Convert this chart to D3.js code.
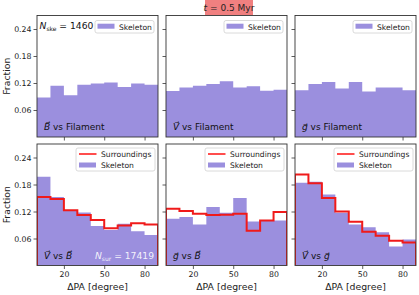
<!DOCTYPE html>
<html>
<head>
<meta charset="utf-8">
<script src="https://cdn.jsdelivr.net/npm/d3@7"></script>
<style>
  body { margin: 0; background: #fff; }
  svg { display: block; font-family: "DejaVu Sans", sans-serif; }
</style>
</head>
<body>
<div id="chart"></div>
<script>
// bin edges (degree) and tick values
const binEdges = [0, 10, 20, 30, 40, 50, 60, 70, 80, 90];
const xTicks = [20, 50, 80];
const yTicks = [0.06, 0.12, 0.18, 0.24];

// top row: skeleton only
const skeBFil = [0.088, 0.114, 0.093, 0.116, 0.119, 0.121, 0.111, 0.119, 0.116];
const skeVFil = [0.102, 0.110, 0.114, 0.118, 0.124, 0.110, 0.113, 0.103, 0.105];
const skeGFil = [0.104, 0.118, 0.122, 0.108, 0.122, 0.101, 0.110, 0.110, 0.104];

// bottom row: skeleton + surroundings
const skeVB = [0.197, 0.152, 0.121, 0.118, 0.088, 0.079, 0.093, 0.076, 0.068];
const surVB = [0.152, 0.148, 0.123, 0.112, 0.101, 0.083, 0.089, 0.094, 0.091];
const skeGB = [0.104, 0.108, 0.091, 0.130, 0.117, 0.150, 0.098, 0.100, 0.100];
const surGB = [0.126, 0.121, 0.115, 0.112, 0.113, 0.115, 0.077, 0.100, 0.119];
const skeVG = [0.184, 0.186, 0.158, 0.117, 0.091, 0.085, 0.074, 0.042, 0.058];
const surVG = [0.202, 0.183, 0.150, 0.120, 0.097, 0.075, 0.066, 0.055, 0.051];

const W = 419, H = 295;
const purple = "#9b8fde";
const red = "#f01a1a";

const svg = d3.select("#chart").append("svg")
  .attr("width", W).attr("height", H);

// panel geometry
const colX = [37, 166, 295], pw = 121;
const rowY = [15.5, 144], ph = 121.5;

const panels = [
  {r: 0, c: 0, ske: skeBFil, a: "B", b: "Filament", nske: true},
  {r: 0, c: 1, ske: skeVFil, a: "V", b: "Filament"},
  {r: 0, c: 2, ske: skeGFil, a: "g", b: "Filament"},
  {r: 1, c: 0, ske: skeVB, sur: surVB, a: "V", b: "B", nsur: true},
  {r: 1, c: 1, ske: skeGB, sur: surGB, a: "g", b: "B"},
  {r: 1, c: 2, ske: skeVG, sur: surVG, a: "V", b: "g"}
];

panels.forEach((p, i) => {
  const x0 = colX[p.c], y0 = rowY[p.r];
  const x = d3.scaleLinear().domain([0, 90]).range([x0, x0 + pw]);
  const y = d3.scaleLinear().domain([0, 0.27]).range([y0 + ph, y0]);

  const clipId = "clip" + i;
  svg.append("clipPath").attr("id", clipId)
    .append("rect").attr("x", x0).attr("y", y0).attr("width", pw).attr("height", ph);

  const g = svg.append("g");

  // step points from bins
  const pts = [];
  p.ske.forEach((v, k) => { pts.push([binEdges[k], v]); pts.push([binEdges[k + 1], v]); });

  const area = d3.area().x(d => x(d[0])).y0(y(0)).y1(d => y(d[1]));
  g.append("path").datum(pts)
    .attr("clip-path", `url(#${clipId})`)
    .attr("d", area)
    .attr("fill", purple);

  if (p.sur) {
    const sp = [[0, 0]];
    p.sur.forEach((v, k) => { sp.push([binEdges[k], v]); sp.push([binEdges[k + 1], v]); });
    sp.push([90, 0]);
    g.append("path").datum(sp)
      .attr("clip-path", `url(#${clipId})`)
      .attr("d", d3.line().x(d => x(d[0])).y(d => y(d[1])))
      .attr("fill", "none").attr("stroke", red).attr("stroke-width", 2);
  }

  // frame
  g.append("rect").attr("x", x0).attr("y", y0).attr("width", pw).attr("height", ph)
    .attr("fill", "none").attr("stroke", "#333").attr("stroke-width", 0.9);

  // axes
  const yAx = g.append("g").attr("transform", `translate(${x0},0)`)
    .call(d3.axisLeft(y).tickValues(yTicks).tickSize(3.5).tickPadding(2)
      .tickFormat(p.c === 0 ? d3.format(".2f") : ""));
  const xAx = g.append("g").attr("transform", `translate(0,${y0 + ph})`)
    .call(d3.axisBottom(x).tickValues(xTicks).tickSize(3.5).tickPadding(2)
      .tickFormat(p.r === 1 ? d3.format("d") : ""));
  [yAx, xAx].forEach(a => {
    a.select(".domain").remove();
    a.selectAll("line").attr("stroke", "#333").attr("stroke-width", 0.8);
    a.selectAll("text").attr("font-size", 7.8).attr("fill", "#222")
      .attr("font-family", "DejaVu Sans");
  });

  // "A vs B" label
  const lab = g.append("text").attr("x", x0 + 7).attr("y", y0 + ph - 7)
    .attr("font-size", 9).attr("fill", "#111");
  lab.append("tspan").attr("font-style", "italic").text(p.a + "\u20D7");
  lab.append("tspan").text(" vs ");
  if (p.b === "Filament") lab.append("tspan").text("Filament");
  else lab.append("tspan").attr("font-style", "italic").text(p.b + "\u20D7");

  // legend
  const lg = g.append("g");
  if (!p.sur) {
    lg.append("rect").attr("x", x0 + pw - 63).attr("y", y0 + 5)
      .attr("width", 59).attr("height", 12.5).attr("rx", 2)
      .attr("fill", "#fff").attr("fill-opacity", 0.85).attr("stroke", "#d0d0d0").attr("stroke-width", 0.8);
    lg.append("rect").attr("x", x0 + pw - 60.5).attr("y", y0 + 8.2)
      .attr("width", 17).attr("height", 5).attr("fill", purple);
    lg.append("text").attr("x", x0 + pw - 39).attr("y", y0 + 14.3)
      .attr("font-size", 7.6).attr("fill", "#222").text("Skeleton");
  } else {
    lg.append("rect").attr("x", x0 + pw - 82).attr("y", y0 + 4)
      .attr("width", 79).attr("height", 23).attr("rx", 2)
      .attr("fill", "#fff").attr("fill-opacity", 0.85).attr("stroke", "#d0d0d0").attr("stroke-width", 0.8);
    lg.append("line").attr("x1", x0 + pw - 79).attr("x2", x0 + pw - 61.5)
      .attr("y1", y0 + 10).attr("y2", y0 + 10)
      .attr("stroke", "#ff4d4d").attr("stroke-width", 2);
    lg.append("text").attr("x", x0 + pw - 57).attr("y", y0 + 12.8)
      .attr("font-size", 7.6).attr("fill", "#222").text("Surroundings");
    lg.append("rect").attr("x", x0 + pw - 79).attr("y", y0 + 18.5)
      .attr("width", 17).attr("height", 5).attr("fill", purple);
    lg.append("text").attr("x", x0 + pw - 57).attr("y", y0 + 23.6)
      .attr("font-size", 7.6).attr("fill", "#222").text("Skeleton");
  }

  if (p.nske) {
    const t = g.append("text").attr("x", x0 + 2.5).attr("y", y0 + 13.5)
      .attr("font-size", 9.2).attr("fill", "#111");
    t.append("tspan").attr("font-style", "italic").text("N");
    t.append("tspan").attr("font-size", 6).attr("dy", 2).text("ske");
    t.append("tspan").attr("dy", -2).text(" = 1460");
  }
  if (p.nsur) {
    const t = g.append("text").attr("x", x0 + pw - 4).attr("y", y0 + ph - 7)
      .attr("text-anchor", "end").attr("font-size", 9.2).attr("fill", "#fff")
      .attr("fill-opacity", 0.9);
    t.append("tspan").attr("font-style", "italic").text("N");
    t.append("tspan").attr("font-size", 6).attr("dy", 2).text("sur");
    t.append("tspan").attr("dy", -2).text(" = 17419");
  }
});

// y labels
rowY.forEach(ry => {
  svg.append("text")
    .attr("transform", `translate(10,${ry + ph / 2}) rotate(-90)`)
    .attr("text-anchor", "middle").attr("font-size", 9.3).attr("fill", "#222")
    .text("Fraction");
});

// x labels
colX.forEach(cx => {
  svg.append("text").attr("x", cx + pw / 2).attr("y", 290)
    .attr("text-anchor", "middle").attr("font-size", 9.3).attr("fill", "#222")
    .text("\u0394PA [degree]");
});

// title box
svg.append("rect").attr("x", 205).attr("y", 0).attr("width", 48).attr("height", 15)
  .attr("fill", "#f08080");
const tt = svg.append("text").attr("x", 229).attr("y", 11)
  .attr("text-anchor", "middle").attr("font-size", 9).attr("fill", "#222");
tt.append("tspan").attr("font-style", "italic").text("t");
tt.append("tspan").text(" = 0.5 Myr");
</script>
</body>
</html>
